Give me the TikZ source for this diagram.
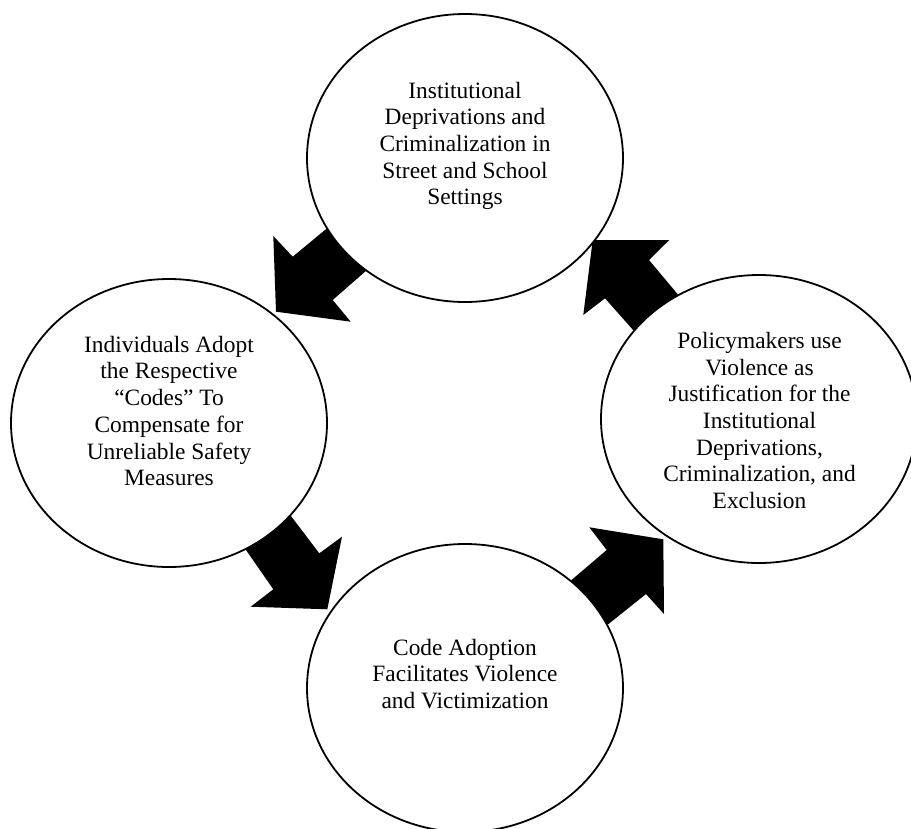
\documentclass[tikz,border=0pt]{standalone}
\usepackage{fontspec}
\setmainfont{Liberation Serif}
\usetikzlibrary{shapes.geometric}
\tikzset{
  bubble/.style={draw=black, fill=white, ellipse, line width=1.8pt, minimum width=316pt, minimum height=288pt, inner sep=0pt},
  bubbletext/.style={align=center, font=\fontsize{23.4}{26.7}\selectfont, inner sep=0pt},
  blockarrow/.style={fill=black, draw=none}
}
\begin{document}
\begin{tikzpicture}[x=1pt, y=-1pt]
\useasboundingbox (0,0) rectangle (911,828);
% block arrows (drawn first, tails hidden under the circles)
\fill[blockarrow] (346,212.6) -- (292.7,256.7) -- (273.3,236) -- (276,311.7) -- (350.7,321.7) -- (332.7,300) -- (383.8,255.3) -- cycle;
\fill[blockarrow] (693,312.5) -- (649,260) -- (669.3,240) -- (592.7,240) -- (583.3,315) -- (605,298.3) -- (648.6,347.5) -- cycle;
\fill[blockarrow] (232.4,530.4) -- (277,497.6) -- (319.3,553.3) -- (342,536.7) -- (327.3,609.3) -- (250.7,606.7) -- (273.3,589.3) -- cycle;
\fill[blockarrow] (554.4,594.6) -- (606.7,550) -- (589.3,527.3) -- (663.3,539.3) -- (664,614) -- (646,594) -- (591,638) -- cycle;
% circles
\node[bubble] (top) at (465,158) {};
\node[bubble] (left) at (169,423) {};
\node[bubble] (right) at (759,419) {};
\node[bubble] (bottom) at (465,688) {};
% texts
\node[bubbletext] (ttop) at (465,146) {Institutional\\Deprivations and\\Criminalization in\\Street and School\\Settings};
\node[bubbletext] (tleft) at (169,411) {Individuals Adopt\\the Respective\\“Codes” To\\Compensate for\\Unreliable Safety\\Measures};
\node[bubbletext] (tright) at (759.5,420.5) {Policymakers use\\Violence as\\Justification for the\\Institutional\\Deprivations,\\Criminalization, and\\Exclusion};
\node[bubbletext] (tbottom) at (465,674) {Code Adoption\\Facilitates Violence\\and Victimization};
\end{tikzpicture}
\end{document}
